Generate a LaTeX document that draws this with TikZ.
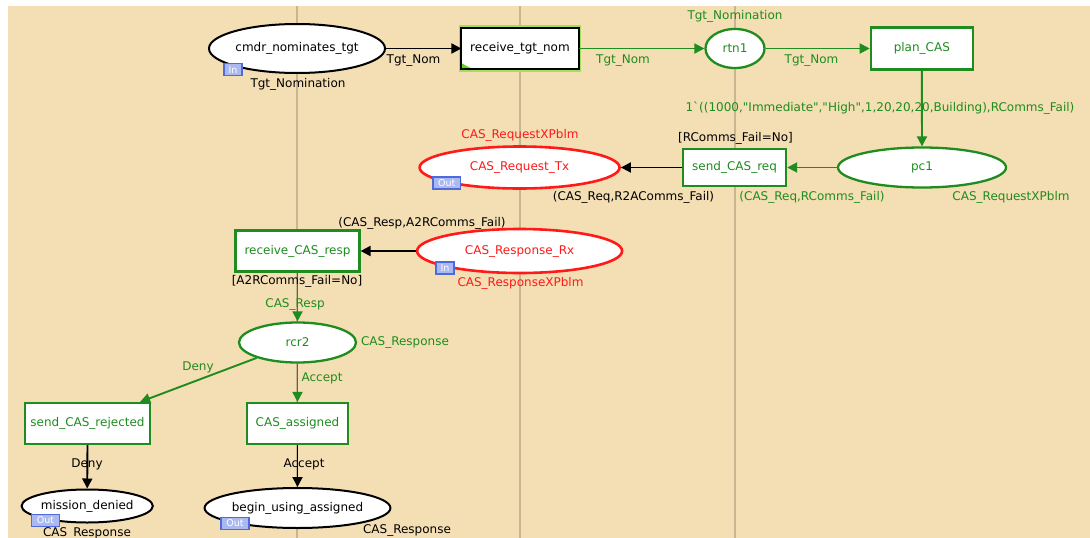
\documentclass[tikz,border=0pt]{standalone}
\usepackage{fontspec}
\setmainfont{DejaVu Sans}
\usetikzlibrary{arrows.meta,shapes.geometric,calc}
\definecolor{bgc}{RGB}{244,222,179}
\definecolor{sepc}{RGB}{200,182,146}
\definecolor{pg}{RGB}{30,140,30}
\definecolor{pr}{RGB}{255,25,25}
\definecolor{tagfill}{RGB}{170,185,240}
\definecolor{tagdraw}{RGB}{80,105,220}
\definecolor{glowc}{RGB}{165,222,90}
\definecolor{tric}{RGB}{90,215,30}
\newcommand\lblfont{\fontsize{12}{14}\selectfont}
\newcommand\tagfont{\fontsize{9.5}{10}\selectfont}
\newcommand\qd{\textquotedbl}
\begin{document}
\begin{tikzpicture}[x=1pt,y=-1pt,
  place/.style={ellipse, draw, fill=white, line width=2pt, inner sep=0pt, font=\lblfont},
  trans/.style={rectangle, draw=pg, fill=white, line width=2.2pt, inner sep=0pt, text=pg, font=\lblfont},
  arc/.style={line width=1.9pt, -{Triangle[length=10pt,width=10pt]}},
  lbl/.style={font=\lblfont, inner sep=0pt},
  iotag/.style={draw=tagdraw, fill=tagfill, line width=1.3pt, text=white, font=\tagfont, inner sep=0pt, minimum height=12pt},
  sepline/.style={draw=sepc, line width=1.6pt}]
\useasboundingbox (0,0) rectangle (1090,538);
\fill[white] (0,0) rectangle (1090,538);
\fill[bgc] (8,6) rectangle (1090,538);
% separators
\coordinate (s1t) at (297,6); \coordinate (s1b) at (297,538);
\coordinate (s2t) at (520,6); \coordinate (s2b) at (520,538);
\coordinate (s3t) at (735,6); \coordinate (s3b) at (735,538);
\draw[sepline] (s1t) -- (s1b);
\draw[sepline] (s2t) -- (s2b);
\draw[sepline] (s3t) -- (s3b);

% places
\node[place, minimum width=176pt, minimum height=49pt] (cmdr) at (297,48.5) {cmdr\_nominates\_tgt};
\node[place, draw=pg, text=pg, line width=2.3pt, minimum width=59pt, minimum height=39pt] (rtn1) at (735,48.5) {rtn1};
\node[place, draw=pg, text=pg, line width=2.3pt, minimum width=168pt, minimum height=40pt] (pc1) at (922,167.5) {pc1};
\node[place, draw=pr, text=pr, line width=2.6pt, minimum width=200pt, minimum height=42pt] (tx) at (519.6,167.5) {CAS\_Request\_Tx};
\node[place, draw=pr, text=pr, line width=2.6pt, minimum width=205pt, minimum height=44pt] (rx) at (519.6,251) {CAS\_Response\_Rx};
\node[place, draw=pg, text=pg, line width=2.3pt, minimum width=117pt, minimum height=40pt] (rcr2) at (297.5,342.5) {rcr2};
\node[place, minimum width=112pt, minimum height=33pt] (md) at (87.2,506) {mission\_denied};
\node[place, minimum width=170pt, minimum height=40pt] (bua) at (297.5,508) {begin\_using\_assigned};

% transitions
\node[trans, draw=none, text=black, minimum width=115pt, minimum height=39pt] (rtn) at (520,48.5) {receive\_tgt\_nom};
\draw[glowc, line width=5pt] (rtn.south west) rectangle (rtn.north east);
\fill[white] (rtn.south west) rectangle (rtn.north east);
\node[lbl] at (rtn) {receive\_tgt\_nom};
\fill[tric] (rtn.south west) -- ++(0,-6) -- ++(11,6) -- cycle;
\draw[black, line width=2pt] (rtn.south west) rectangle (rtn.north east);
\node[trans, minimum width=102pt, minimum height=42pt] (plan) at (921.8,48.5) {plan\_CAS};
\node[trans, minimum width=103pt, minimum height=37pt] (send) at (734.6,167.5) {send\_CAS\_req};
\node[trans, minimum width=124pt, minimum height=41pt] (rcresp) at (297.5,251) {receive\_CAS\_resp};
\node[trans, minimum width=125pt, minimum height=41pt] (rej) at (87.5,423.5) {send\_CAS\_rejected};
\node[trans, minimum width=101.5pt, minimum height=41pt] (assigned) at (297.5,423.5) {CAS\_assigned};

% arcs
\draw[arc] (cmdr.east) -- (rtn.west);
\draw[arc, pg] (rtn.east) -- (rtn1.west);
\draw[arc, pg] (rtn1.east) -- (plan.west);
\draw[arc, pg] (plan.south) -- (pc1.north);
\draw[arc, pg] (pc1.west) -- (send.east);
\draw[arc] (send.west) -- (tx.east);
\draw[arc] (rx.west) -- (rcresp.east);
\draw[arc, pg] (rcresp.south) -- (rcr2.north);
\draw[arc, pg] (rcr2) -- ([xshift=-11pt]rej.north east);
\draw[arc, pg] (rcr2.south) -- (assigned.north);
\draw[arc] (rej.south) -- (md.north);
\draw[arc] (assigned.south) -- (bua.north);

% io tags
\node[iotag, minimum width=18pt] (tagA) at (233,69.7) {In};
\node[iotag, minimum width=27.5pt] (tagB) at (446.7,183) {Out};
\node[iotag, minimum width=18pt] (tagC) at (445,268) {In};
\node[iotag, minimum width=28.5pt] (tagD) at (45.5,520.5) {Out};
\node[iotag, minimum width=28pt] (tagE) at (235,523.5) {Out};

% labels
\node[lbl] (l1) at (413.5,61) {Tgt\_Nom};
\node[lbl] (l2) at (298,84.5) {Tgt\_Nomination};
\node[lbl, text=pg] (l3) at (623,61) {Tgt\_Nom};
\node[lbl, text=pg] (l4) at (735,16.7) {Tgt\_Nomination};
\node[lbl, text=pg] (l5) at (811.5,61) {Tgt\_Nom};
\node[lbl, text=pg] (l6) at (880,108.5) {1\textasciigrave((1000,\qd Immediate\qd,\qd High\qd,1,20,20,20,Building),RComms\_Fail)};
\node[lbl, text=pg] (l7) at (1011,197) {CAS\_RequestXPblm};
\node[lbl, text=pg] (l8) at (812,197) {(CAS\_Req,RComms\_Fail)};
\node[lbl] (l9) at (735.5,138) {[RComms\_Fail=No]};
\node[lbl] (l10) at (633.5,197) {(CAS\_Req,R2AComms\_Fail)};
\node[lbl, text=pr] (l11) at (520,135) {CAS\_RequestXPblm};
\node[lbl, text=pr] (l12) at (520.5,283) {CAS\_ResponseXPblm};
\node[lbl] (l13) at (422,223.6) {(CAS\_Resp,A2RComms\_Fail)};
\node[lbl] (l14) at (297,281) {[A2RComms\_Fail=No]};
\node[lbl, text=pg] (l15) at (295,304) {CAS\_Resp};
\node[lbl, text=pg] (l16) at (405,342) {CAS\_Response};
\node[lbl, text=pg] (l17) at (198,367) {Deny};
\node[lbl, text=pg] (l18) at (322,378.7) {Accept};
\node[lbl] (l19) at (87,464.5) {Deny};
\node[lbl] (l20) at (304,464.5) {Accept};
\node[lbl] (l21) at (87,533.5) {CAS\_Response};
\node[lbl] (l22) at (407,530.5) {CAS\_Response};
\end{tikzpicture}
\end{document}
